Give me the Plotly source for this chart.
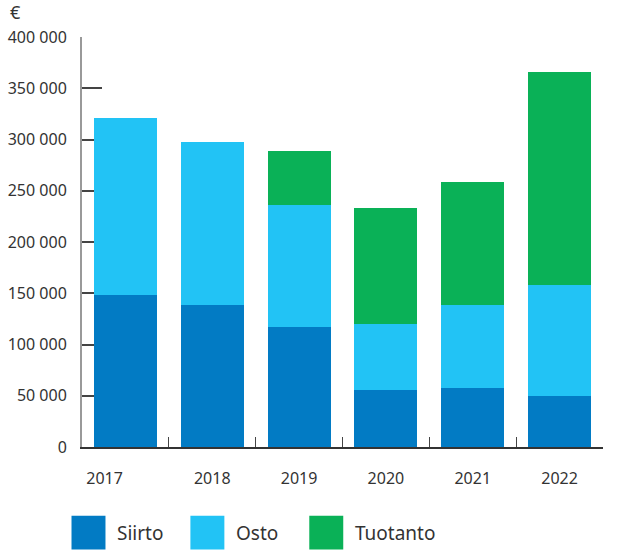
import plotly.graph_objects as go

# ---- data ----
years = ["2017", "2018", "2019", "2020", "2021", "2022"]
siirto = [148500, 138500, 117500, 56000, 58000, 50000]
osto = [172000, 159000, 118500, 64000, 80500, 108000]
tuotanto = [0, 0, 53000, 113000, 120000, 208000]
series_names = ["Siirto", "Osto", "Tuotanto"]
y_ticks = [0, 50000, 100000, 150000, 200000, 250000, 300000, 350000, 400000]

colors = ["#027BC4", "#22C3F5", "#0AB157"]
FONT = "Noto Sans"
TXT = "#333333"

W, H = 617, 552
L, R, T, B = 81.5, 14, 37, 104.7
PW, PH = W - L - R, H - T - B

fig = go.Figure()
for name, vals, col in zip(series_names, [siirto, osto, tuotanto], colors):
    fig.add_trace(go.Bar(x=years, y=vals, name=name, marker=dict(color=col, line=dict(width=0)),
                         showlegend=False))

# x tick labels (first one sits a bit left in the reference)
ticktext = [years[0] + "\u00a0" * 10] + years[1:]

fig.update_layout(
    width=W, height=H,
    margin=dict(l=L, r=R, t=T, b=B, pad=0, autoexpand=False),
    barmode="stack", bargap=0.276,
    plot_bgcolor="white", paper_bgcolor="white",
    separators=", ",
    font=dict(family=FONT, size=16, color=TXT),
    xaxis=dict(type="category", range=[-0.5, 5.5], showgrid=False, automargin=False,
               showline=True, linecolor="#333333", linewidth=1.5,
               ticks="inside", ticklen=10, tickwidth=1.3, tickcolor="#444444",
               tickson="boundaries", tickvals=years, ticktext=ticktext, tickangle=0,
               ticklabelstandoff=16, tickfont=dict(size=16, color=TXT)),
    yaxis=dict(range=[0, 400000], showgrid=False, zeroline=False, automargin=False,
               showline=True, linecolor="#999999", linewidth=2,
               ticks="inside", ticklen=20, tickwidth=1.5, tickcolor="#444444",
               tickvals=y_ticks, tickformat=",d", layer="below traces",
               ticklabelstandoff=10, tickfont=dict(size=16, color=TXT)),
)

def px_x(px):
    return (px - L) / PW

def px_y(py):
    return (H - B - py) / PH

# euro unit label
fig.add_annotation(text="€", xref="paper", yref="paper",
                   x=px_x(8), y=px_y(12), xanchor="left", yanchor="middle", borderpad=0,
                   showarrow=False, font=dict(size=18, color=TXT, family=FONT))

# custom legend with large swatches
leg_x = [71, 190, 309]
sq = 34
leg_top = 516
for name, col, x0 in zip(series_names, colors, leg_x):
    fig.add_shape(type="rect", xref="paper", yref="paper",
                  x0=px_x(x0), x1=px_x(x0 + sq), y0=px_y(leg_top + sq), y1=px_y(leg_top),
                  fillcolor=col, line=dict(width=0))
    fig.add_annotation(text=name, xref="paper", yref="paper",
                       x=px_x(x0 + sq + 10), y=px_y(leg_top + sq / 2),
                       xanchor="left", yanchor="middle", showarrow=False,
                       font=dict(size=19, color=TXT, family=FONT))

fig.write_html("out.html", config={"displayModeBar": False},
               post_script="document.body.style.margin='0';document.body.style.overflow='hidden';")
